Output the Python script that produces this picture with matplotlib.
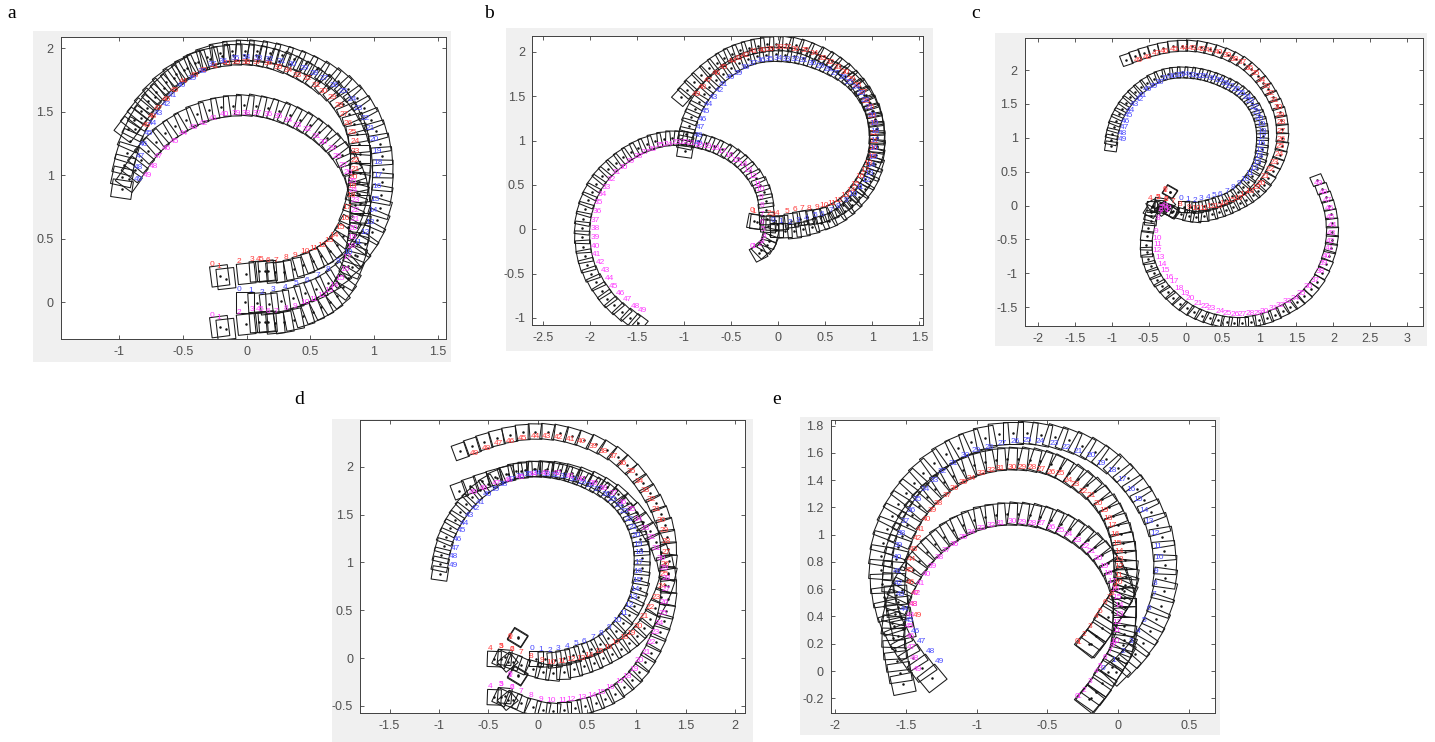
import numpy as np
import matplotlib
matplotlib.use("Agg")
import matplotlib.pyplot as plt
from matplotlib.collections import PolyCollection
from matplotlib.patches import Rectangle

# Label positions, index 0..49 along each path
blue_x = [-.06,.03,.12,.21,.30,.39,.47,.56,.64,.72,.80,.87,.93,.97,.99,1.01,1.02,1.03,1.03,1.02,1.00,.97,.93,.88,.83,.76,.69,.61,.53,.45,.36,.27,.18,.09,.00,-.09,-.18,-.27,-.35,-.43,-.51,-.58,-.63,-.69,-.74,-.77,-.81,-.83,-.85,-.85]
blue_y = [.10,.09,.08,.10,.12,.15,.17,.21,.26,.32,.39,.47,.55,.63,.72,.81,.91,1.00,1.10,1.19,1.28,1.37,1.45,1.53,1.60,1.66,1.71,1.76,1.80,1.84,1.87,1.90,1.91,1.92,1.93,1.92,1.90,1.87,1.82,1.76,1.71,1.63,1.56,1.49,1.41,1.33,1.24,1.15,1.06,.97]

a_red_x = [-.27,-.22,-.06,.04,.09,.11,.17,.23,.31,.38,.46,.53,.59,.65,.69,.73,.77,.79,.82,.83,.84,.85,.85,.85,.85,.83,.80,.77,.73,.67,.60,.55,.48,.40,.33,.25,.17,.08,.00,-.08,-.16,-.25,-.34,-.41,-.50,-.57,-.63,-.69,-.74,-.79]
a_red_y = [.30,.28,.32,.34,.34,.34,.33,.33,.35,.37,.40,.42,.45,.49,.53,.59,.66,.75,.84,.91,.98,1.05,1.12,1.19,1.27,1.34,1.41,1.48,1.55,1.61,1.66,1.71,1.76,1.79,1.83,1.85,1.88,1.89,1.89,1.89,1.88,1.86,1.83,1.79,1.74,1.67,1.60,1.53,1.46,1.39]
a_mag_x = [-.27,-.22,-.06,.04,.09,.11,.17,.23,.31,.38,.46,.53,.59,.65,.69,.73,.77,.79,.82,.83,.84,.85,.85,.85,.84,.83,.80,.76,.71,.67,.60,.55,.48,.40,.33,.25,.17,.08,.00,-.08,-.17,-.26,-.34,-.42,-.50,-.57,-.63,-.69,-.73,-.78]
a_mag_y = [-.10,-.12,-.08,-.06,-.06,-.06,-.07,-.07,-.05,-.03,.00,.02,.05,.09,.13,.19,.26,.35,.44,.51,.58,.65,.72,.80,.88,.95,1.02,1.08,1.15,1.21,1.26,1.31,1.36,1.39,1.43,1.46,1.48,1.49,1.49,1.49,1.48,1.45,1.41,1.38,1.33,1.27,1.21,1.15,1.07,1.00]

b_red_x = [-.28,-.26,-.10,-.06,-.01,.09,.18,.25,.33,.41,.49,.57,.64,.71,.77,.82,.87,.92,.96,1.00,1.01,1.02,1.02,1.02,1.00,.98,.94,.90,.84,.78,.71,.64,.555,.47,.38,.29,.18,.095,.01,-.08,-.17,-.26,-.35,-.42,-.49,-.58,-.66,-.74,-.81,-.87]
b_red_y = [.21,.20,.18,.17,.18,.20,.22,.23,.23,.24,.27,.29,.32,.38,.44,.50,.59,.665,.74,.82,.91,.99,1.08,1.19,1.27,1.37,1.44,1.54,1.62,1.69,1.77,1.825,1.88,1.93,1.98,2.015,2.03,2.045,2.045,2.03,2.015,2.00,1.96,1.93,1.89,1.83,1.76,1.68,1.60,1.52]
b_mag_x = [-.28,-.26,-.20,-.17,-.15,-.16,-.17,-.17,-.17,-.18,-.19,-.22,-.27,-.32,-.38,-.45,-.52,-.60,-.67,-.76,-.84,-.93,-1.00,-1.09,-1.17,-1.26,-1.34,-1.42,-1.49,-1.58,-1.65,-1.72,-1.78,-1.83,-1.87,-1.91,-1.93,-1.95,-1.95,-1.95,-1.94,-1.93,-1.89,-1.84,-1.80,-1.75,-1.68,-1.60,-1.52,-1.44]
b_mag_y = [-.20,-.19,-.17,-.14,-.08,.00,.08,.17,.27,.36,.445,.51,.59,.665,.73,.78,.83,.875,.91,.93,.95,.97,.98,.98,.96,.94,.905,.87,.82,.76,.70,.635,.56,.475,.39,.30,.20,.10,.01,-.09,-.19,-.29,-.38,-.47,-.56,-.65,-.73,-.79,-.87,-.92]

far_red_x = [-.28,-.28,-.26,-.37,-.48,-.37,-.26,-.17,-.07,.04,.14,.24,.34,.44,.52,.62,.71,.79,.87,.95,1.02,1.08,1.14,1.20,1.26,1.28,1.29,1.30,1.30,1.28,1.25,1.20,1.15,1.09,1.03,.95,.86,.77,.66,.56,.44,.33,.21,.09,-.02,-.15,-.28,-.40,-.52,-.64]
far_red_y = [.23,.22,.09,.12,.10,.12,.09,.055,.014,-.03,-.05,-.04,-.02,-.01,.03,.07,.11,.16,.21,.26,.33,.43,.53,.63,.75,.87,.98,1.10,1.22,1.33,1.44,1.55,1.66,1.75,1.85,1.95,2.03,2.11,2.16,2.21,2.26,2.29,2.31,2.32,2.32,2.30,2.27,2.24,2.19,2.14]

c_mag_x = [-.27,-.25,-.22,-.26,-.30,-.33,-.34,-.35,-.38,-.40,-.39,-.38,-.38,-.345,-.32,-.28,-.22,-.16,-.09,-.01,.07,.17,.26,.35,.47,.56,.67,.76,.87,.98,1.07,1.19,1.28,1.38,1.48,1.57,1.66,1.75,1.82,1.86,1.91,1.94,1.96,1.97,1.98,1.96,1.95,1.92,1.86,1.80]
c_mag_y = [-.06,-.07,-.05,-.02,.00,-.03,-.07,-.12,-.19,-.38,-.48,-.58,-.665,-.77,-.87,-.96,-1.06,-1.12,-1.23,-1.30,-1.37,-1.44,-1.49,-1.52,-1.57,-1.59,-1.61,-1.61,-1.60,-1.59,-1.57,-1.52,-1.47,-1.42,-1.37,-1.30,-1.20,-1.10,-.98,-.85,-.75,-.63,-.53,-.41,-.29,-.17,-.05,.08,.19,.32]

d_mag_x = [-.28,-.28,-.26,-.37,-.48,-.37,-.26,-.17,-.07,.03,.14,.25,.34,.45,.55,.64,.73,.83,.90,.98,1.03,1.10,1.15,1.19,1.23,1.27,1.28,1.30,1.30,1.28,1.25,1.20,1.15,1.09,1.02,.95,.86,.77,.66,.56,.44,.33,.20,.08,-.04,-.17,-.30,-.42,-.55,-.65]
d_mag_y = [-.17,-.18,-.31,-.28,-.30,-.28,-.31,-.345,-.39,-.43,-.44,-.44,-.43,-.41,-.39,-.36,-.31,-.25,-.19,-.12,-.03,.06,.16,.27,.36,.47,.58,.72,.83,.94,1.04,1.15,1.26,1.35,1.45,1.55,1.63,1.72,1.77,1.83,1.87,1.90,1.93,1.93,1.92,1.89,1.86,1.83,1.77,1.73]

e_blue_x = [-.105,-.03,.03,.09,.14,.185,.22,.25,.26,.27,.29,.28,.26,.22,.185,.14,.09,.025,-.04,-.12,-.19,-.28,-.37,-.45,-.55,-.64,-.73,-.82,-.91,-1.00,-1.08,-1.165,-1.24,-1.30,-1.36,-1.42,-1.46,-1.50,-1.53,-1.55,-1.56,-1.56,-1.55,-1.54,-1.51,-1.475,-1.435,-1.39,-1.325,-1.26]
e_blue_y = [.02,.08,.14,.22,.29,.37,.46,.56,.64,.73,.83,.91,1.01,1.095,1.175,1.26,1.33,1.405,1.47,1.52,1.58,1.61,1.64,1.665,1.68,1.69,1.685,1.67,1.64,1.62,1.58,1.52,1.46,1.40,1.33,1.26,1.18,1.095,1.01,.92,.83,.73,.64,.56,.45,.37,.29,.215,.145,.07]
e_red_x = [-.29,-.28,-.24,-.20,-.155,-.13,-.09,-.065,-.045,-.02,.00,.005,.005,.005,.005,-.01,-.02,-.045,-.07,-.10,-.14,-.19,-.245,-.30,-.35,-.41,-.47,-.54,-.61,-.68,-.75,-.83,-.895,-.965,-1.035,-1.09,-1.155,-1.21,-1.27,-1.31,-1.355,-1.395,-1.42,-1.445,-1.46,-1.47,-1.47,-1.435,-1.445,-1.42]
e_red_y = [.215,.21,.265,.325,.40,.44,.50,.54,.57,.61,.65,.70,.765,.82,.88,.935,1.00,1.065,1.12,1.18,1.23,1.285,1.32,1.37,1.40,1.445,1.457,1.48,1.49,1.495,1.495,1.487,1.47,1.45,1.413,1.38,1.335,1.285,1.23,1.175,1.11,1.04,.97,.89,.815,.735,.65,.565,.49,.41]
e_mag_x = [-.29,-.28,-.24,-.20,-.155,-.13,-.09,-.06,-.045,-.03,-.02,-.01,-.005,.005,.005,-.005,-.02,-.045,-.07,-.10,-.14,-.19,-.235,-.29,-.35,-.41,-.47,-.54,-.61,-.68,-.75,-.83,-.895,-.965,-1.035,-1.09,-1.155,-1.215,-1.265,-1.31,-1.355,-1.395,-1.425,-1.445,-1.47,-1.47,-1.47,-1.46,-1.44,-1.42]
e_mag_y = [-.19,-.19,-.14,-.08,-.005,.03,.10,.145,.19,.20,.22,.295,.355,.415,.48,.54,.60,.66,.715,.77,.825,.88,.915,.96,1.00,1.03,1.05,1.08,1.08,1.09,1.095,1.085,1.065,1.045,1.015,.98,.93,.885,.83,.77,.71,.64,.565,.49,.41,.33,.25,.17,.09,.01]

# Explicit start headings (degrees) where the vehicle turns on the spot
loop_head = [58, 58, -50, -25, -2, -5, -20, -25]
c_mag_head = [55, 55, 130, 170, 210, 240, 255, 265]

a_xticks = [-1, -.5, 0, .5, 1, 1.5]; a_yticks = [0, .5, 1, 1.5, 2]
b_xticks = [-2.5, -2, -1.5, -1, -.5, 0, .5, 1, 1.5]; b_yticks = [-1, -.5, 0, .5, 1, 1.5, 2]
c_xticks = [-2, -1.5, -1, -.5, 0, .5, 1, 1.5, 2, 2.5, 3]; c_yticks = [-1.5, -1, -.5, 0, .5, 1, 1.5, 2]
d_xticks = [-1.5, -1, -.5, 0, .5, 1, 1.5, 2]; d_yticks = [-.5, 0, .5, 1, 1.5, 2]
e_xticks = [-2, -1.5, -1, -.5, 0, .5]; e_yticks = [-.2, 0, .2, .4, .6, .8, 1, 1.2, 1.4, 1.6, 1.8]

RED, BLUE, MAG = '#ff3c3c', '#4a4aff', '#ff3cff'
W, H = 1435, 742
plt.rcParams['font.family'] = ['Liberation Sans']
fig = plt.figure(figsize=(W/100, H/100), dpi=100, facecolor='white')

def fmt(v):
    return f'{v:g}'

def draw_path(ax, x, y, col, sx, sy, head0=None, w=.14, h=.16):
    lab = np.column_stack([x, y]).astype(float)
    n = len(lab)
    # rectangle corner sits lower-left of the label's centre
    off = np.array([[(2.7 if i < 10 else 5.0)/sx, 2.7/sy] for i in range(n)])
    p = lab - off
    q = p.copy()
    for i in range(8, n-1):
        q[i] = p[i-1:i+2].mean(axis=0)
    polys, cx, cy = [], [], []
    for i in range(n):
        d = p[min(i+3, n-1)] - p[max(i-3, 0)]
        ang = np.arctan2(d[1], d[0])
        if head0 is not None and i < len(head0):
            ang = np.deg2rad(head0[i])
        t = np.array([np.cos(ang), np.sin(ang)])
        r = np.array([t[1], -t[0]])
        polys.append([q[i], q[i]+w*t, q[i]+w*t+h*r, q[i]+h*r])
        c = q[i] + w/2*t + h/2*r
        cx.append(c[0]); cy.append(c[1])
    ax.add_collection(PolyCollection(polys, facecolors='none', edgecolors='#1a1a1a', linewidths=0.75, zorder=2))
    ax.plot(cx, cy, ls='none', marker='o', ms=1.8, mfc='#111111', mec='none', zorder=3)
    for i in range(n):
        ax.text(x[i], y[i], str(i), color=col, fontsize=6, ha='center', va='center', zorder=4, clip_on=True)

panels = [
    dict(l='a', lp=(7, 13), bg=(33, 31, 451, 362), box=(60.7, 37, 445.7, 339), xl=(-1.46, 1.563), yl=(-.289, 2.09),
         xt=a_xticks, yt=a_yticks,
         paths=[(a_red_x, a_red_y, RED, None), (blue_x, blue_y, BLUE, None), (a_mag_x, a_mag_y, MAG, None)]),
    dict(l='b', lp=(484, 13), bg=(506, 28, 933, 351), box=(532, 36, 923, 325), xl=(-2.62, 1.54), yl=(-1.08, 2.18),
         xt=b_xticks, yt=b_yticks,
         paths=[(b_red_x, b_red_y, RED, None), (blue_x, blue_y, BLUE, None), (b_mag_x, b_mag_y, MAG, None)]),
    dict(l='c', lp=(971, 13), bg=(995, 33, 1427, 346), box=(1024.7, 38, 1422.7, 326), xl=(-2.176, 3.207), yl=(-1.778, 2.473),
         xt=c_xticks, yt=c_yticks,
         paths=[(far_red_x, far_red_y, RED, loop_head), (blue_x, blue_y, BLUE, None), (c_mag_x, c_mag_y, MAG, c_mag_head)]),
    dict(l='d', lp=(294, 399), bg=(332, 419, 753, 742), box=(360, 420, 745, 713), xl=(-1.80, 2.10), yl=(-.575, 2.49),
         xt=d_xticks, yt=d_yticks,
         paths=[(far_red_x, far_red_y, RED, loop_head), (blue_x, blue_y, BLUE, None), (d_mag_x, d_mag_y, MAG, loop_head)]),
    dict(l='e', lp=(772, 399), bg=(800, 417, 1220, 735), box=(830.7, 420, 1215.3, 713.3), xl=(-2.03, .686), yl=(-.31, 1.841),
         xt=e_xticks, yt=e_yticks,
         paths=[(e_red_x, e_red_y, RED, None), (e_blue_x, e_blue_y, BLUE, None), (e_mag_x, e_mag_y, MAG, None)]),
]

for P in panels:
    x0, y0, x1, y1 = P['bg']
    fig.add_artist(Rectangle((x0/W, 1-y1/H), (x1-x0)/W, (y1-y0)/H, transform=fig.transFigure,
                             fc='#f0f0f0', ec='none', zorder=0))
    bx0, by0, bx1, by1 = P['box']
    ax = fig.add_axes([bx0/W, 1-by1/H, (bx1-bx0)/W, (by1-by0)/H], zorder=2)
    ax.set_facecolor('white')
    ax.set_xlim(*P['xl']); ax.set_ylim(*P['yl'])
    ax.set_xticks(P['xt']); ax.set_yticks(P['yt'])
    ax.set_xticklabels([fmt(v) for v in P['xt']]); ax.set_yticklabels([fmt(v) for v in P['yt']])
    ax.tick_params(direction='in', length=3, width=0.6, top=True, right=True, color='#404040',
                   labelcolor='#505050', labelsize=9, pad=5)
    for s in ax.spines.values():
        s.set_linewidth(0.7); s.set_color('#404040')
    sx = (bx1-bx0)/(P['xl'][1]-P['xl'][0]); sy = (by1-by0)/(P['yl'][1]-P['yl'][0])
    for xs, ys, col, hd in P['paths']:
        draw_path(ax, xs, ys, col, sx, sy, hd)
    fig.text(P['lp'][0]/W, 1-P['lp'][1]/H, P['l'], family='Liberation Serif', fontsize=14,
             color='black', ha='left', va='center')

fig.savefig('out.png', dpi=100)
